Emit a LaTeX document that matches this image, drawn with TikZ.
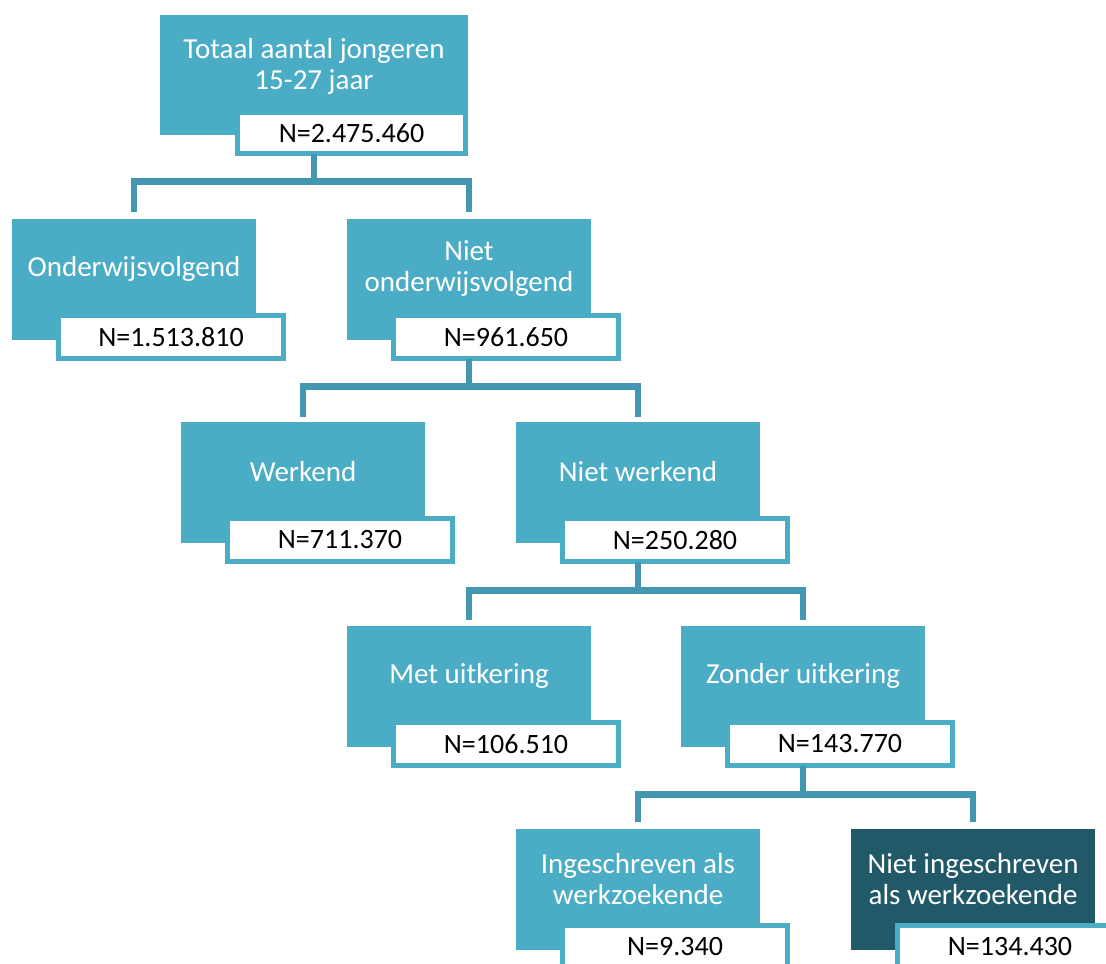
\documentclass[tikz,border=0pt]{standalone}
\usepackage{fontspec}
\setmainfont{Carlito}
\usetikzlibrary{calc}
\definecolor{teal1}{HTML}{4BACC6}
\definecolor{darkteal}{HTML}{215968}
\definecolor{connc}{HTML}{4497B0}
\newcommand{\lblfont}{\fontsize{29}{31}\selectfont}
\newcommand{\numfont}{\fontsize{28}{30}\selectfont}
\tikzset{
  tbox/.style={fill=teal1, draw=none, minimum width=244pt, minimum height=121pt,
               anchor=north west, inner sep=0pt, outer sep=0pt},
  dbox/.style={tbox, fill=darkteal},
  nbox/.style={fill=white, draw=teal1, line width=5pt, minimum width=225pt,
               minimum height=43pt, anchor=north west, inner sep=0pt, outer sep=0pt,
               font=\numfont, text=black},
  lbl/.style={text=white, align=center, font=\lblfont, inner sep=0pt},
  conn/.style={draw=connc, line width=6.5pt, line join=miter, line cap=butt}
}
\begin{document}
\begin{tikzpicture}[x=1pt,y=-1pt]
\useasboundingbox (0,0) rectangle (1106,964);
\clip (0,0) rectangle (1106,964);
\fill[white] (0,0) rectangle (1106,964);

% Row 1
\node[tbox, minimum width=308pt, minimum height=120pt] (t0) at (160,15) {};
\node[nbox, minimum width=228pt, minimum height=41pt] (n0) at (237.5,112.5) {N=2.475.460};
\node[lbl] (l0) at (314,66) {Totaal aantal jongeren\\15-27 jaar};

% Row 2
\node[tbox] (t1) at (12,219) {};
\node[nbox] (n1) at (58.5,315.5) {N=1.513.810};
\node[lbl] (l1) at (134,269) {Onderwijsvolgend};

\node[tbox] (t2) at (347,219) {};
\node[nbox] (n2) at (393.5,315.5) {N=961.650};
\node[lbl] (l2) at (469,269) {Niet\\onderwijsvolgend};

% Row 3
\node[tbox] (t3) at (181,422) {};
\node[nbox] (n3) at (227.5,518.5) {N=711.370};
\node[lbl] (l3) at (303,472) {Werkend};

\node[tbox] (t4) at (516,422) {};
\node[nbox] (n4) at (562.5,518.5) {N=250.280};
\node[lbl] (l4) at (638,472) {Niet werkend};

% Row 4
\node[tbox] (t5) at (347,626) {};
\node[nbox] (n5) at (393.5,722.5) {N=106.510};
\node[lbl] (l5) at (469,676) {Met uitkering};

\node[tbox] (t6) at (681,626) {};
\node[nbox] (n6) at (727.5,722.5) {N=143.770};
\node[lbl] (l6) at (803,676) {Zonder uitkering};

% Row 5
\node[tbox] (t7) at (516,829) {};
\node[nbox] (n7) at (562.5,925.5) {N=9.340};
\node[lbl] (l7) at (638,879) {Ingeschreven als\\werkzoekende};

\node[dbox] (t8) at (851,829) {};
\node[nbox] (n8) at (897.5,925.5) {N=134.430};
\node[lbl] (l8) at (973,879) {Niet ingeschreven\\als werkzoekende};

% Connectors
\coordinate (b0) at ([yshift=-28pt]n0.south -| t0.south);
\draw[conn] (n0.south -| t0.south) -- (b0);
\draw[conn] ([yshift=7pt]t1.north) |- (b0) -| ([yshift=7pt]t2.north);

\coordinate (b2) at ([yshift=-28pt]n2.south -| t2.south);
\draw[conn] (n2.south -| t2.south) -- (b2);
\draw[conn] ([yshift=5pt]t3.north) |- (b2) -| ([yshift=5pt]t4.north);

\coordinate (b4) at ([yshift=-29pt]n4.south -| t4.south);
\draw[conn] (n4.south -| t4.south) -- (b4);
\draw[conn] ([yshift=6pt]t5.north) |- (b4) -| ([yshift=6pt]t6.north);

\coordinate (b6) at ([yshift=-29pt]n6.south -| t6.south);
\draw[conn] (n6.south -| t6.south) -- (b6);
\draw[conn] ([yshift=7pt]t7.north) |- (b6) -| ([yshift=7pt]t8.north);
\end{tikzpicture}
\end{document}
